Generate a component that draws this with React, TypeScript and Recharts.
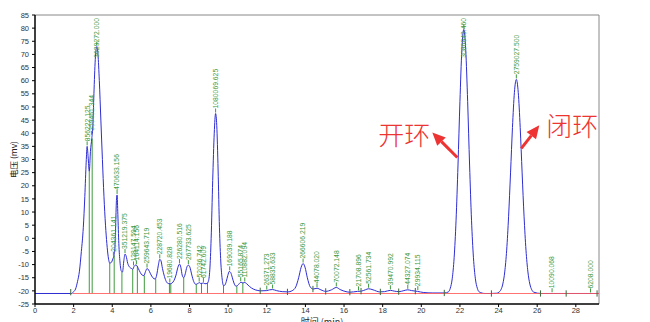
import { ComposedChart, Line, XAxis, YAxis, ReferenceLine, ReferenceDot } from 'recharts';

// chromatogram trace (time in min, signal in mv)
const curveTime = [
  0, 1.85, 1.9, 2.0, 2.1, 2.2, 2.3, 2.4, 2.5, 2.58, 2.65, 2.7, 2.75, 2.81, 2.87, 2.94, 2.99, 3.05, 3.12, 3.2,
  3.26, 3.33, 3.41, 3.49, 3.57, 3.65, 3.72, 3.79, 3.87, 3.95, 4.03, 4.09, 4.14, 4.18, 4.22, 4.25, 4.29, 4.34, 4.4, 4.47,
  4.53, 4.6, 4.66, 4.72, 4.8, 4.9, 5.0, 5.06, 5.13, 5.2, 5.27, 5.35, 5.45, 5.55, 5.64, 5.72, 5.8, 5.88, 5.98, 6.1,
  6.22, 6.3, 6.38, 6.46, 6.52, 6.6, 6.7, 6.8, 6.9, 7.0, 7.1, 7.2, 7.3, 7.4, 7.48, 7.55, 7.62, 7.7, 7.78, 7.86,
  7.94, 8.02, 8.12, 8.22, 8.32, 8.42, 8.5, 8.58, 8.66, 8.72, 8.8, 8.9, 8.97, 9.05, 9.12, 9.2, 9.28, 9.35, 9.41, 9.48,
  9.55, 9.62, 9.69, 9.76, 9.83, 9.9, 9.98, 10.06, 10.13, 10.21, 10.3, 10.4, 10.48, 10.58, 10.66, 10.76, 10.86, 10.96, 11.1, 11.3,
  11.5, 11.7, 12.0, 12.15, 12.3, 12.5, 12.8, 13.1, 13.3, 13.5, 13.65, 13.78, 13.88, 13.98, 14.1, 14.25, 14.4, 14.6, 14.8, 15.05,
  15.35, 15.6, 15.8, 16.1, 16.3, 16.7, 16.9, 17.1, 17.27, 17.5, 17.85, 18.1, 18.4, 18.6, 18.85, 19.1, 19.3, 19.5, 19.8, 20.1,
  20.6, 21.2, 21.4, 21.5, 21.6, 21.7, 21.8, 21.9, 22.0, 22.1, 22.2, 22.3, 22.4, 22.5, 22.6, 22.7, 22.8, 22.9, 23.0, 23.3,
  23.6, 23.9, 24.02, 24.12, 24.22, 24.32, 24.42, 24.52, 24.62, 24.72, 24.82, 24.92, 25.02, 25.12, 25.22, 25.32, 25.42, 25.52, 25.62, 25.72,
  25.82, 26.2, 27.5, 29.2,
];
const curveMv = [
  -21, -21, -21, -20.3, -19.3, -16.5, -12.5, -5, 4, 16, 29, 35, 31, 25.5, 33, 38, 42, 55, 68, 73,
  70, 60, 45, 30, 16, 5, -2, -7, -9.4, -9.2, -7.8, -6.5, -3, 6, 15, 16.5, 9, -2, -9, -12.5,
  -12.8, -8.5, -6, -6.8, -9.5, -11, -11.5, -11.8, -10.7, -10.2, -10.4, -11.5, -13, -14, -14.2, -12.7, -11.5, -12, -13.5, -15,
  -15.5, -14, -10.5, -8, -8.5, -11.5, -14.5, -16.5, -17.2, -17.3, -17, -16, -14, -11, -9.8, -11, -14, -15, -13.5, -11,
  -10.2, -11, -14, -16.5, -17.5, -17.3, -16.8, -17.2, -17.1, -17, -17.3, -17.2, -16.5, -12, 0, 22, 40, 47.5, 43, 26,
  4, -9, -15.5, -18, -17.8, -16.5, -14.2, -12.6, -13, -14.8, -17, -18.2, -18, -17.2, -16.7, -17, -16.8, -17.3, -18.3, -19.3,
  -19.8, -20, -19.9, -19.6, -19.5, -19.9, -20.3, -20.4, -20, -18.5, -15, -11, -9.6, -11, -15, -18.5, -19.3, -19, -19.6, -20.2,
  -19.6, -18.7, -19.5, -20.3, -20.5, -20.2, -20.1, -19.6, -19.2, -19.6, -20.4, -20.3, -19.8, -20.1, -20.3, -19.9, -19.6, -19.9, -20.2, -20.6,
  -20.8, -20.8, -20.4, -19, -15.4, -7.4, 6.9, 27.9, 52, 71.8, 79.5, 71.8, 52, 27.9, 6.9, -7.4, -15.4, -19, -20.4, -21,
  -21, -20.9, -20.5, -19.6, -17.4, -12.8, -4.5, 8.4, 24.9, 42.2, 55.5, 60.5, 55.5, 42.2, 24.9, 8.4, -4.5, -12.8, -17.4, -19.6,
  -20.5, -21, -21, -21,
];

const baselineStart = 1.95;
const baselineMv = -21;

// valley drop lines (green)
const dropTime = [2.81, 2.96, 3.87, 4.1, 4.5, 5.06, 5.3, 5.66, 6.25, 6.96, 7.03, 7.7, 8.35, 8.62, 8.93, 9.76, 10.45, 10.76];
const dropTop = [25.5, 38, -9.4, -6.5, -12.8, -11.8, -10.5, -14.2, -15.5, -17.2, -17.3, -15, -17.5, -17.2, -17, -18, -18.2, -16.9];

// short integration marks near the baseline
const markTime = [1.85, 11.66, 13.07, 14.39, 15.05, 16.3, 16.88, 17.88, 18.83, 19.69, 21.19, 23.63, 26.17, 27.5, 29.1];
const markMv = [-20.5, -20, -20.4, -19.3, -20.2, -20.5, -20.1, -20.4, -20.3, -20.1, -20.8, -21, -21, -21, -21];

// peak labels
const labelTime = [2.7, 2.92, 3.2, 4.06, 4.25, 4.66, 5.1, 5.25, 5.8, 6.46, 6.98, 7.48, 7.94, 8.5, 8.72, 9.35, 10.08, 10.65,
  10.86, 12.0, 12.3, 13.88, 14.6, 15.6, 16.75, 17.27, 18.4, 19.3, 19.82, 22.2, 24.92, 26.77, 28.76];
const labelMv = [35, 39, 73, -7, 16.5, -6, -10.7, -10.3, -11.5, -8, -17.2, -9.8, -10.2, -16.8, -17, 47.5, -12.6, -16.7,
  -16.8, -19.9, -19.5, -9.6, -19, -18.7, -20.2, -19.2, -19.8, -19.6, -20.1, 79.5, 60.5, -20.9, -21];
const labelText = ['856222.125', '359461.344', '3629272.000', '204361.141', '470633.156', '351219.375', '128147.594',
  '164114.156', '259643.719', '228720.453', '19680.828', '226280.516', '267733.625', '52036.742', '61742.609',
  '1080069.625', '169039.188', '55165.874', '110882.094', '26371.273', '58835.633', '266606.219', '44078.020',
  '70072.148', '21708.896', '52561.734', '39470.992', '44327.074', '29934.115', '3086843.460', '2759027.500',
  '10090.068', '6208.000'];

// hand-drawn annotations (arrow tip position in data space)
const noteText = ['开环', '闭环'];
const noteTime = [20.57, 26.11];
const noteMv = [40.3, 43];

const xTicks = [0, 2, 4, 6, 8, 10, 12, 14, 16, 18, 20, 22, 24, 26, 28];
const xMinorTicks = [0.5, 1, 1.5, 2.5, 3, 3.5, 4.5, 5, 5.5, 6.5, 7, 7.5, 8.5, 9, 9.5, 10.5, 11, 11.5, 12.5, 13, 13.5, 14.5, 15,
  15.5, 16.5, 17, 17.5, 18.5, 19, 19.5, 20.5, 21, 21.5, 22.5, 23, 23.5, 24.5, 25, 25.5, 26.5, 27, 27.5, 28.5, 29];
const yTicks = [-25, -20, -15, -10, -5, 0, 5, 10, 15, 20, 25, 30, 35, 40, 45, 50, 55, 60, 65, 70, 75, 80, 85];
const xMax = 29.2;

const data = curveTime.map((t, i) => ({ t, v: curveMv[i] }));

const GREEN = '#3f9a3f';
const PLOT_TOP = 15;

function PeakLabel({ cx, cy, text }: { cx: number; cy: number; text: string }) {
  const len = text.length * 3.55;
  let y0 = cy - 5;
  let anchor: 'start' | 'end' = 'start';
  if (y0 - len < PLOT_TOP + 3) {
    y0 = PLOT_TOP + 3;
    anchor = 'end';
  }
  return (
    <g>
      <line x1={cx} x2={cx} y1={cy - 1} y2={cy - 5} stroke={GREEN} strokeWidth={1} />
      <text
        x={cx}
        y={y0}
        dy="0.35em"
        transform={`rotate(-90 ${cx} ${y0})`}
        textAnchor={anchor}
        fontSize={6.8}
        fontFamily="'Liberation Sans', Arial, sans-serif"
        fill={GREEN}
      >
        {text}
      </text>
    </g>
  );
}

function Note({ cx, cy, text, side }: { cx: number; cy: number; text: string; side: number }) {
  // side 0: text left, arrow from lower right; side 1: text right, arrow from lower left
  const tail = side === 0 ? { x: cx + 25, y: cy + 25 } : { x: cx - 18, y: cy + 23 };
  const tx = side === 0 ? cx - 28 : cx + 33;
  const ty = side === 0 ? cy + 1 : cy - 1;
  const dx = cx - tail.x;
  const dy = cy - tail.y;
  const l = Math.sqrt(dx * dx + dy * dy);
  const ux = dx / l;
  const uy = dy / l;
  const head = 13;
  const bx = cx - ux * head;
  const by = cy - uy * head;
  const w = 6;
  return (
    <g>
      <line x1={tail.x} y1={tail.y} x2={bx} y2={by} stroke="#ee3333" strokeWidth={3} />
      <polygon
        points={`${cx},${cy} ${bx - uy * w},${by + ux * w} ${bx + uy * w},${by - ux * w}`}
        fill="#ee3333"
      />
      <text
        x={tx}
        y={ty}
        textAnchor="middle"
        dominantBaseline="central"
        fontSize={26}
        fontFamily="'Noto Sans CJK SC', sans-serif"
        fontWeight={300}
        fill="#ee3333"
      >
        {text}
      </text>
    </g>
  );
}

export default function App() {
  return (
    <div style={{ position: 'absolute', left: 0, top: 0, background: '#fff' }}>
      <ComposedChart width={650} height={322} data={data} margin={{ top: PLOT_TOP, right: 51, left: 0, bottom: 0 }}>
        <XAxis
          xAxisId="minor"
          dataKey="t"
          type="number"
          domain={[0, xMax]}
          ticks={xMinorTicks}
          height={0}
          tick={false}
          tickSize={2}
          axisLine={false}
          tickLine={{ stroke: '#000' }}
          allowDataOverflow
        />
        <XAxis
          dataKey="t"
          type="number"
          domain={[0, xMax]}
          ticks={xTicks}
          height={18}
          tickSize={3}
          tickMargin={1}
          axisLine={{ stroke: '#000', strokeWidth: 1.5 }}
          tickLine={{ stroke: '#000' }}
          tick={{ fontSize: 7.5, fill: '#333', fontFamily: "'Liberation Sans', Arial, sans-serif" }}
          allowDataOverflow
          label={{
            value: '时间 (min)',
            position: 'insideBottom',
            offset: -3,
            dx: 5,
            style: { fontSize: 9, fill: '#222', fontFamily: "'Noto Sans CJK SC', sans-serif" },
          }}
        />
        <YAxis
          type="number"
          domain={[-25, 85]}
          ticks={yTicks}
          width={35}
          tickSize={3}
          tickMargin={3}
          interval={0}
          axisLine={{ stroke: '#000', strokeWidth: 1.5 }}
          tickLine={{ stroke: '#000' }}
          tick={{ fontSize: 7.5, fill: '#333', fontFamily: "'Liberation Sans', Arial, sans-serif" }}
          allowDataOverflow
          label={{
            value: '电压 (mv)',
            angle: -90,
            position: 'insideLeft',
            offset: 14,
            style: { fontSize: 8.5, fill: '#222', textAnchor: 'middle', fontFamily: "'Noto Sans CJK SC', sans-serif" },
          }}
        />
        <ReferenceLine y={85} stroke="#888" strokeWidth={1} />
        <ReferenceLine x={xMax} stroke="#888" strokeWidth={1} />

        {dropTime.map((t, i) => (
          <ReferenceLine
            key={`d${i}`}
            segment={[{ x: t, y: baselineMv }, { x: t, y: dropTop[i] }]}
            stroke={GREEN}
            strokeWidth={1}
          />
        ))}

        <Line type="monotone" dataKey="v" stroke="#2d2dd2" strokeWidth={1} dot={false} isAnimationActive={false} />

        <ReferenceLine
          segment={[{ x: baselineStart, y: baselineMv }, { x: xMax, y: baselineMv }]}
          stroke="#ff5a5a"
          strokeOpacity={0.85}
          strokeWidth={1.2}
        />

        {markTime.map((t, i) => (
          <ReferenceLine
            key={`m${i}`}
            segment={[{ x: t, y: markMv[i] - 1.2 }, { x: t, y: markMv[i] + 1.2 }]}
            stroke="#3a6a3a"
            strokeWidth={1}
          />
        ))}

        {labelTime.map((t, i) => (
          <ReferenceDot
            key={`l${i}`}
            x={t}
            y={labelMv[i]}
            r={0}
            ifOverflow="visible"
            shape={(p: any) => <PeakLabel cx={p.cx} cy={p.cy} text={labelText[i]} />}
          />
        ))}

        {noteTime.map((t, i) => (
          <ReferenceDot
            key={`n${i}`}
            x={t}
            y={noteMv[i]}
            r={0}
            ifOverflow="visible"
            shape={(p: any) => <Note cx={p.cx} cy={p.cy} text={noteText[i]} side={i} />}
          />
        ))}
      </ComposedChart>
    </div>
  );
}
